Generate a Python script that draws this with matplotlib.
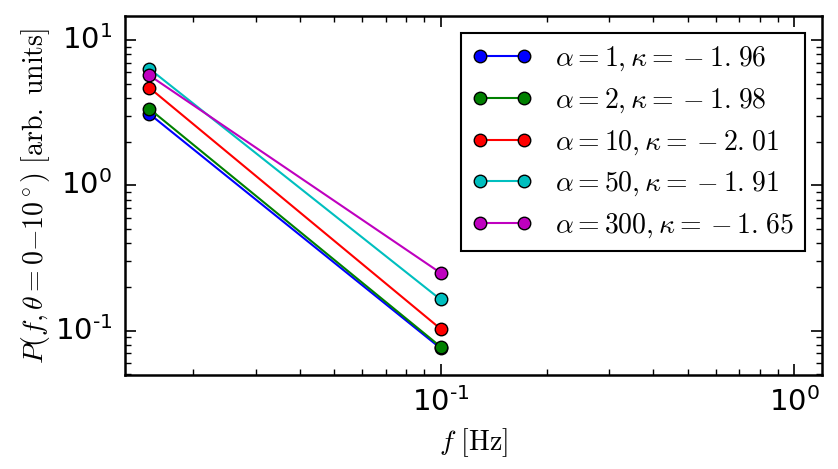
import matplotlib
matplotlib.use("Agg")
import matplotlib.pyplot as plt
from matplotlib.ticker import FuncFormatter, LogLocator
import numpy as np

plt.style.use("classic")
plt.rcParams["mathtext.fontset"] = "cm"
plt.rcParams["font.family"] = ["DejaVu Sans"]

# frequencies [Hz]
freqs = [0.015, 0.1]

# power at each frequency, one series per alpha
alphas = [1, 2, 10, 50, 300]
kappas = ["1.96", "1.98", "2.01", "1.91", "1.65"]
power = [
    [3.12, 0.0757],
    [3.38, 0.0776],
    [4.72, 0.103],
    [6.38, 0.164],
    [5.74, 0.25],
]
colors = ["b", "g", "r", "c", "m"]


def decade_label(v, pos):
    # old-style "10^-1" with a short hyphen instead of a long minus
    e = int(round(np.log10(v)))
    s = str(e).replace("-", "\u2010")
    return r"$\mathdefault{10^{%s}}$" % s


fig = plt.figure(figsize=(8.38, 4.69), dpi=100, facecolor="white")
ax = fig.add_axes([0.149, 0.2004, 0.832, 0.7655])

for a, k, p, c in zip(alphas, kappas, power, colors):
    # mimic the old mathtext look: binary minus and a small gap after the point
    kk = k.replace(".", r".\hspace{0.1}")
    ax.loglog(freqs, p, "-o", color=c, lw=1.5, ms=9, mec="k", mew=1,
              label=r"$\alpha=%d,\kappa={}-%s$" % (a, kk))

ax.set_xlim(0.0128, 1.2)
ax.set_ylim(0.0495, 14.7)
for axis in (ax.xaxis, ax.yaxis):
    axis.set_major_locator(LogLocator(base=10))
    axis.set_major_formatter(FuncFormatter(decade_label))

for s in ax.spines.values():
    s.set_linewidth(1.8)
ax.tick_params(which="major", length=8, width=1.2, labelsize=21, pad=9)
ax.tick_params(which="minor", length=4, width=1.0)

ax.set_xlabel(r"$f\ [\mathrm{Hz}]$", fontsize=20, labelpad=6)
ax.set_ylabel(r"$P(f,\theta=0{-}10^\circ)\ [\mathrm{arb.\ units}]$", fontsize=20,
              labelpad=2)

leg = ax.legend(loc="upper right", numpoints=2, fontsize=20,
                handlelength=2.2, borderaxespad=0.6, labelspacing=0.45)
leg.get_frame().set_linewidth(1.5)

fig.savefig("out.png", dpi=100, facecolor="white")
